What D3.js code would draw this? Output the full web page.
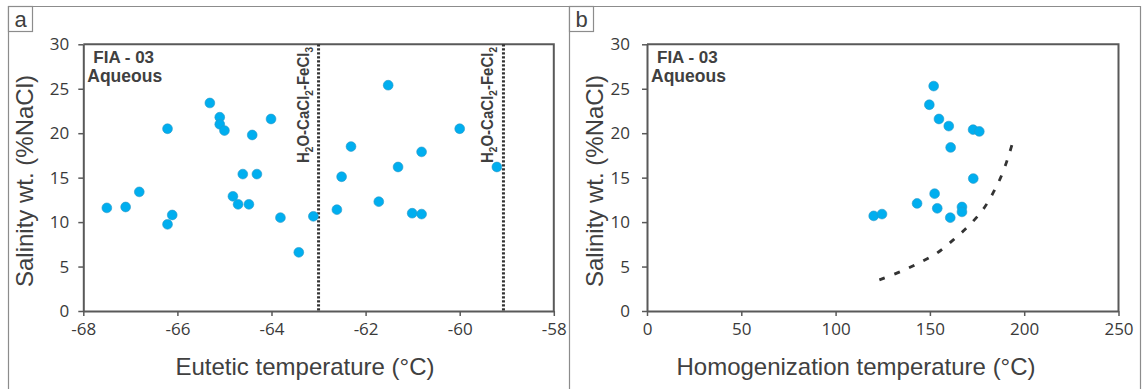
<!DOCTYPE html>
<html>
<head>
<meta charset="utf-8">
<script src="https://cdn.jsdelivr.net/npm/d3@7"></script>
<style>
  body { margin: 0; background: #fff; }
  svg { display: block; }
  .tick text { font-family: "Open Sans", sans-serif; font-size: 17px; fill: #3a3a3a; }
  .title { font-family: "Liberation Sans", Arial, sans-serif; font-size: 24px; fill: #404040; }
  .note { font-family: "Liberation Sans", Arial, sans-serif; font-weight: bold; fill: #404040; }
</style>
</head>
<body>
<script>
// panel a : eutectic temperature vs salinity
const eutecticT = [-65.31, -65.10, -65.10, -65.00, -66.21, -64.01, -64.41, -64.61, -64.31, -66.81,
  -67.50, -67.10, -64.82, -64.71, -64.48, -66.11, -66.21, -63.81, -63.11, -63.42,
  -61.52, -60.00, -62.31, -60.81, -61.31, -62.51, -59.21, -61.72, -62.61, -61.01, -60.81];
const eutecticSal = [23.4, 21.8, 21.0, 20.3, 20.5, 21.6, 19.8, 15.4, 15.4, 13.4,
  11.6, 11.7, 12.9, 12.0, 12.0, 10.8, 9.75, 10.5, 10.65, 6.6,
  25.4, 20.5, 18.5, 17.9, 16.2, 15.1, 16.2, 12.3, 11.4, 11.0, 10.9];
const eutecticLines = [-63.0, -59.07];
const eutecticLineLabels = [["H", "2", "O-CaCl", "2", "-FeCl", "3"], ["H", "2", "O-CaCl", "2", "-FeCl", "2"]];

// panel b : homogenization temperature vs salinity
const homogT = [152.0, 149.7, 154.8, 160.0, 172.9, 176.2, 161.0, 173.0, 152.5, 143.2,
  153.9, 167.0, 167.0, 160.8, 120.2, 124.6];
const homogSal = [25.3, 23.2, 21.6, 20.8, 20.4, 20.2, 18.4, 14.9, 13.2, 12.1,
  11.55, 11.7, 11.15, 10.5, 10.7, 10.9];
const curveT = [123.2, 134.1, 144.1, 153.6, 162.4, 170.4, 177.6, 183.3, 188.1, 191.8, 194.6];
const curveSal = [3.5, 4.4, 5.4, 6.5, 8.0, 9.55, 11.25, 13.2, 15.3, 17.5, 19.5];

const ticksA = [-68, -66, -64, -62, -60, -58];
const ticksB = [0, 50, 100, 150, 200, 250];
const ticksY = [0, 5, 10, 15, 20, 25, 30];

const width = 1142, height = 389;
const svg = d3.select("body").append("svg")
  .attr("width", width).attr("height", height)
  .attr("viewBox", [0, 0, width, height]);

// outer frame and divider
const frame = "#8c8c8c";
svg.append("path")
  .attr("d", `M8.5,${height} V6.5 H1140.5 V${height} M569.5,6.5 V${height}`)
  .attr("fill", "none").attr("stroke", frame).attr("stroke-width", 1.2);

function panelLabel(x, txt) {
  svg.append("rect").attr("x", x + 0.5).attr("y", 6.5).attr("width", 24).attr("height", 25)
    .attr("fill", "#fff").attr("stroke", frame).attr("stroke-width", 1.2);
  svg.append("text").attr("x", x + 12.5).attr("y", 27).attr("text-anchor", "middle")
    .attr("font-family", "Liberation Sans, Arial, sans-serif").attr("font-size", 22)
    .attr("fill", "#404040").text(txt);
}

function drawPanel(opt) {
  const x = d3.scaleLinear().domain(opt.xDomain).range(opt.xRange);
  const y = d3.scaleLinear().domain([0, 30]).range([311, 44.3]);
  const g = svg.append("g");

  const yAxis = g.append("g").attr("transform", `translate(${opt.xRange[0]},0)`)
    .call(d3.axisLeft(y).tickValues(ticksY).tickSize(5).tickSizeOuter(0).tickPadding(opt.yPad));
  const xAxis = g.append("g").attr("transform", `translate(0,${y(0)})`)
    .call(d3.axisBottom(x).tickValues(opt.ticks).tickSize(5).tickSizeOuter(0).tickPadding(7)
      .tickFormat(d => String(d)));
  [xAxis, yAxis].forEach(a => {
    a.select(".domain").attr("stroke", "#595959").attr("stroke-width", 2);
    a.selectAll(".tick line").attr("stroke", "#595959").attr("stroke-width", 1.5);
  });

  // top and right border of the plot box
  g.append("path")
    .attr("d", `M${opt.xRange[0]},${y(30)} H${opt.xRange[1]} V${y(0)}`)
    .attr("fill", "none").attr("stroke", "#595959").attr("stroke-width", 2);

  g.append("text").attr("class", "title")
    .attr("x", opt.xTitleX).attr("y", 375)
    .attr("text-anchor", "middle").text(opt.xTitle);
  g.append("text").attr("class", "title")
    .attr("transform", `translate(${opt.yTitleX},181) rotate(-90)`)
    .attr("text-anchor", "middle")
    .text("Salinity wt. (%NaCl)");

  g.append("text").attr("class", "note").attr("font-size", 17)
    .attr("x", opt.xRange[0] + 10).attr("y", 63).text("FIA - 03");
  g.append("text").attr("class", "note").attr("font-size", 17.5)
    .attr("x", opt.xRange[0] + 4).attr("y", 81.5).text("Aqueous");

  return { g, x, y };
}

panelLabel(8, "a");
panelLabel(569, "b");

// ---- panel a
const A = drawPanel({
  xDomain: [-68, -58], xRange: [83.3, 553.8], ticks: ticksA, yPad: 9,
  xTitle: "Eutetic temperature (°C)", xTitleX: 305, yTitleX: 33
});

eutecticLines.forEach((v, i) => {
  A.g.append("line")
    .attr("x1", A.x(v)).attr("x2", A.x(v)).attr("y1", A.y(30)).attr("y2", A.y(0))
    .attr("stroke", "#333").attr("stroke-width", 3).attr("stroke-dasharray", "2.2,1.8");
  const t = A.g.append("text").attr("class", "note").attr("font-size", 16.5)
    .attr("textLength", 116).attr("lengthAdjust", "spacingAndGlyphs")
    .attr("transform", `translate(${A.x(v) - 10},163) rotate(-90)`);
  eutecticLineLabels[i].forEach((s, k) => {
    const sp = t.append("tspan").text(s);
    if (k % 2 === 1) sp.attr("font-size", 11).attr("dy", 4);
    else if (k > 0) sp.attr("dy", -4);
  });
});

A.g.append("g").selectAll("circle")
  .data(d3.range(eutecticT.length))
  .join("circle")
  .attr("cx", i => A.x(eutecticT[i]))
  .attr("cy", i => A.y(eutecticSal[i]))
  .attr("r", 4.9)
  .attr("fill", "#00aeef").attr("stroke", "#2a98c8").attr("stroke-width", 0.6);

// ---- panel b
const B = drawPanel({
  xDomain: [0, 250], xRange: [647, 1118.5], ticks: ticksB, yPad: 12,
  xTitle: "Homogenization temperature (°C)", xTitleX: 856, yTitleX: 603
});

const curve = d3.line()
  .x(i => B.x(curveT[i]))
  .y(i => B.y(curveSal[i]))
  .curve(d3.curveCatmullRom);
B.g.append("path")
  .attr("d", curve(d3.range(curveT.length)))
  .attr("fill", "none").attr("stroke", "#333").attr("stroke-width", 2.8)
  .attr("stroke-dasharray", "6,10");

B.g.append("g").selectAll("circle")
  .data(d3.range(homogT.length))
  .join("circle")
  .attr("cx", i => B.x(homogT[i]))
  .attr("cy", i => B.y(homogSal[i]))
  .attr("r", 4.9)
  .attr("fill", "#00aeef").attr("stroke", "#2a98c8").attr("stroke-width", 0.6);
</script>
</body>
</html>
